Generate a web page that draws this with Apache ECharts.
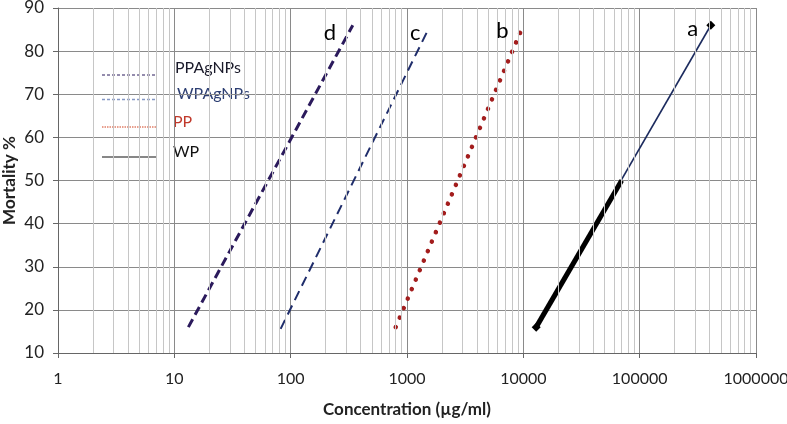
<!DOCTYPE html>
<html>
<head>
<meta charset="utf-8">
<script src="https://cdn.jsdelivr.net/npm/echarts@6/dist/echarts.min.js"></script>
<style>
html,body{margin:0;padding:0;background:#fff;}
#chart{width:787px;height:424px;}
</style>
</head>
<body>
<div id="chart"></div>
<script>
// Data (concentration in µg/ml, mortality in %)
const concD = [13.2, 342];      // PPAgNPs
const mortD = [16, 86];
const concC = [82, 1520];       // WPAgNPs
const mortC = [15.6, 85];
const concB = [800, 10000];     // PP
const mortB = [16, 86];
const concA = [12900, 409000];  // WP (full line)
const mortA = [16, 86];
const concAThick = [12900, 70000]; // WP thick segment
const mortAThick = [16, 50];
const curveLabels = ['d', 'c', 'b', 'a'];
const legendNames = ['PPAgNPs', 'WPAgNPs', 'PP', 'WP'];
const xTicks = [1, 10, 100, 1000, 10000, 100000, 1000000];
const yTicks = [10, 20, 30, 40, 50, 60, 70, 80, 90];

function pairs(xs, ys) { return xs.map((x, i) => [x, ys[i]]); }

// minor vertical grid lines at 2..9 x each decade
const minorLines = [];
for (let d = 0; d < xTicks.length - 1; d++) {
  for (let k = 2; k <= 9; k++) minorLines.push({ xAxis: xTicks[d] * k });
}

const FONT = 'Lato';
function endMark(xs, ys, text, off) {
  return {
    symbol: 'circle', symbolSize: 1, silent: true,
    itemStyle: { color: 'rgba(0,0,0,0)' },
    label: { show: true, position: 'inside', formatter: text, offset: off,
             fontSize: 22, color: '#000', fontFamily: FONT },
    data: [{ coord: [xs[xs.length - 1], ys[ys.length - 1]] }]
  };
}

const chart = echarts.init(document.getElementById('chart'), null, { renderer: 'canvas' });
chart.setOption({
  animation: false,
  backgroundColor: '#fff',
  grid: { left: 58, right: 31, top: 8, bottom: 71, containLabel: false, outerBoundsMode: 'none' },
  xAxis: {
    type: 'log', logBase: 10, min: xTicks[0], max: xTicks[xTicks.length - 1],
    name: 'Concentration (µg/ml)', nameLocation: 'middle', nameGap: 48, nameMoveOverlap: false,
    nameTextStyle: { fontSize: 17, fontWeight: 'bold', color: '#222', fontFamily: FONT },
    axisLine: { show: true, lineStyle: { color: '#666', width: 1 } },
    axisTick: { show: true, length: 5, lineStyle: { color: '#666' } },
    axisLabel: { fontSize: 16, color: '#222', margin: 18, fontFamily: FONT,
                 formatter: v => String(Math.round(v)) },
    splitLine: { show: true, lineStyle: { color: '#8a8a8a', width: 1 } },
    minorTick: { show: false }, minorSplitLine: { show: false }
  },
  yAxis: {
    type: 'value', min: yTicks[0], max: yTicks[yTicks.length - 1], interval: 10,
    name: 'Mortality %', nameLocation: 'middle', nameGap: 40, nameMoveOverlap: false,
    nameTextStyle: { fontSize: 17, fontWeight: 'bold', color: '#222', fontFamily: FONT },
    axisLine: { show: true, lineStyle: { color: '#666', width: 1 } },
    axisTick: { show: true, length: 5, lineStyle: { color: '#666' } },
    axisLabel: { fontSize: 17, color: '#222', margin: 14, fontFamily: FONT },
    splitLine: { show: true, lineStyle: { color: '#8a8a8a', width: 1 } }
  },
  series: [
    {
      name: 'minorgrid', type: 'line', data: [], z: 1, silent: true,
      markLine: {
        silent: true, symbol: ['none', 'none'], animation: false,
        label: { show: false },
        lineStyle: { color: '#c6c6c6', width: 1, type: 'solid' },
        data: minorLines
      }
    },
    {
      name: legendNames[0], type: 'line', data: pairs(concD, mortD), z: 3,
      showSymbol: false, symbol: 'none',
      lineStyle: { color: '#2b1a5c', width: 3, type: [9, 5] },
      markPoint: endMark(concD, mortD, curveLabels[0], [-23, 8])
    },
    {
      name: legendNames[1], type: 'line', data: pairs(concC, mortC), z: 3,
      showSymbol: false, symbol: 'none',
      lineStyle: { color: '#1f2d6b', width: 2, type: [10, 6] },
      markPoint: endMark(concC, mortC, curveLabels[1], [-13, 3])
    },
    {
      name: legendNames[2], type: 'line', data: pairs(concB, mortB), z: 3,
      showSymbol: false, symbol: 'none',
      lineStyle: { color: '#a31d1d', width: 4.5, type: [0.1, 10.2], cap: 'round' },
      markPoint: endMark(concB, mortB, curveLabels[2], [-21, 6])
    },
    {
      name: legendNames[3], type: 'line', data: pairs(concA, mortA), z: 3,
      symbol: 'diamond', symbolSize: 9, showSymbol: true,
      itemStyle: { color: '#000' },
      lineStyle: { color: '#1c2b5e', width: 1.6 },
      markPoint: endMark(concA, mortA, curveLabels[3], [-18, 4])
    },
    {
      name: legendNames[3] + '-thick', type: 'line', data: pairs(concAThick, mortAThick), z: 4,
      showSymbol: false, symbol: 'none',
      lineStyle: { color: '#000', width: 5 }
    }
  ],
  graphic: [
    { type: 'line', shape: { x1: 102, y1: 75, x2: 157, y2: 75 }, style: { stroke: '#2b1a5c', lineWidth: 1, lineDash: [3, 2] } },
    { type: 'line', shape: { x1: 102, y1: 99.5, x2: 157, y2: 99.5 }, style: { stroke: '#8597c4', lineWidth: 1.5, lineDash: [3, 2] } },
    { type: 'line', shape: { x1: 102, y1: 127, x2: 157, y2: 127 }, style: { stroke: '#d2401f', lineWidth: 1.2, lineDash: [1.5, 1] } },
    { type: 'line', shape: { x1: 102, y1: 157, x2: 157, y2: 157 }, style: { stroke: '#111', lineWidth: 1.2 } },
    { type: 'text', x: 175, y: 68, style: { text: legendNames[0], fill: '#1a1a2a', font: '16px Lato', verticalAlign: 'middle' } },
    { type: 'text', x: 177, y: 94, style: { text: legendNames[1], fill: '#2c3e72', font: '16px Lato', verticalAlign: 'middle' } },
    { type: 'text', x: 173, y: 122, style: { text: legendNames[2], fill: '#c0392b', font: '16px Lato', verticalAlign: 'middle' } },
    { type: 'text', x: 173, y: 152, style: { text: legendNames[3], fill: '#111', font: '16px Lato', verticalAlign: 'middle' } }
  ]
});
</script>
</body>
</html>
